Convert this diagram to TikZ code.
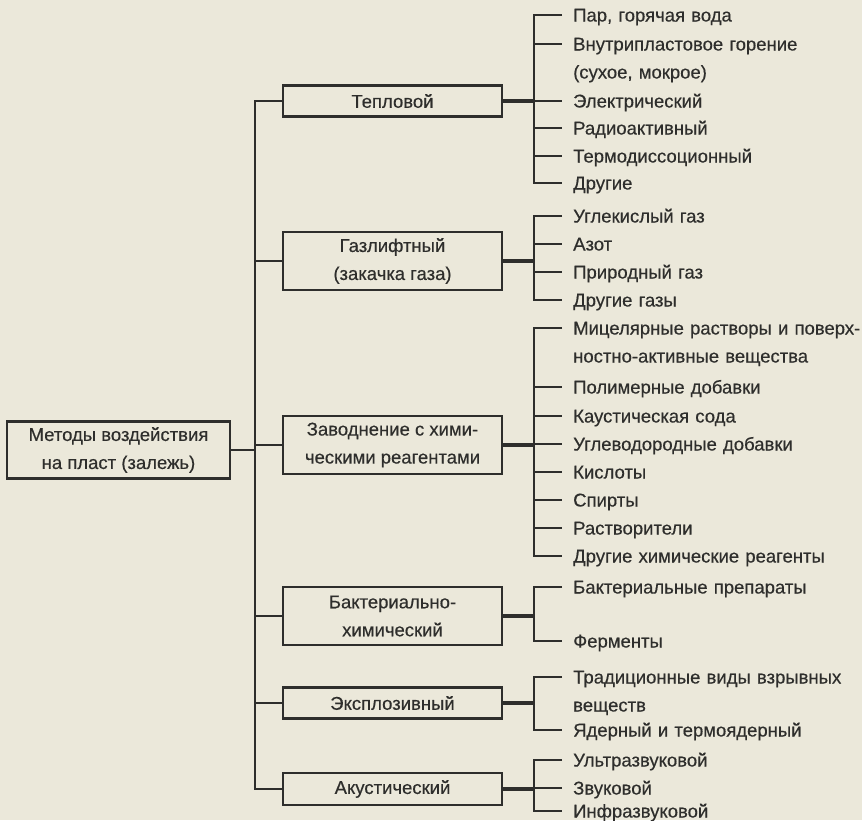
\documentclass[tikz,border=0pt]{standalone}
\usepackage{fontspec}
\setmainfont{Liberation Sans}[FakeBold=0.4]
\definecolor{paper}{RGB}{235,232,218}
\definecolor{ink}{RGB}{46,46,44}
\tikzset{
    method/.style={draw=ink, line width=2.8pt, text=ink, minimum width=219pt, align=center, inner sep=0pt},
    leaf/.style={anchor=west, text=ink, text width=310pt, align=left, inner xsep=11pt, inner ysep=0pt, text height=13pt, text depth=0pt},
    link/.style={draw=ink, line width=2.8pt},
    stub/.style={draw=ink, line width=4.6pt}
}

\begin{document}
\begin{tikzpicture}[x=1pt, y=-1pt, font=\fontsize{18.5}{28}\selectfont]
    % Paper
    \useasboundingbox (0,0) rectangle (862,820);
    \fill [paper] (0,0) rectangle (862,820);

    % Root of the tree
    \node [method, minimum width=223pt, minimum height=57pt] (root) at (118.5,450) {Методы воздействия\\на пласт (залежь)};

    % Methods
    \node [method, minimum height=31pt] (teplo) at (392.5,101) {Тепловой};
    \node [method, minimum height=58pt] (gaz) at (392.5,261) {Газлифтный\\(закачка газа)};
    \node [method, minimum height=58pt] (zavod) at (392.5,445) {Заводнение с хими-\\ческими реагентами};
    \node [method, minimum height=58pt] (bakt) at (392.5,616) {Бактериально-\\химический};
    \node [method, minimum height=31pt] (expl) at (392.5,703) {Эксплозивный};
    \node [method, minimum height=32pt] (akust) at (392.5,789) {Акустический};

    % Trunk
    \coordinate (trunk) at (255,0);
    \coordinate (bus) at (534,0);
    \draw [link] (teplo.west) -| (akust.west -| trunk) -- (akust.west);
    \draw [link] (gaz.west -| trunk) -- (gaz.west)
                 (zavod.west -| trunk) -- (zavod.west)
                 (bakt.west -| trunk) -- (bakt.west)
                 (expl.west -| trunk) -- (expl.west);
    \draw [link] (root.east) -- (root.east -| trunk);

    % Thermal
    \node [leaf] (pary) at (562,15) {Пар, горячая вода};
    \node [leaf] (vnutri) at (562,44) {Внутрипластовое горение\\(сухое, мокрое)};
    \node [leaf] (elektr) at (562,101) {Электрический};
    \node [leaf] (radio) at (562,128) {Радиоактивный};
    \node [leaf] (termo) at (562,156) {Термодиссоционный};
    \node [leaf] (drugie) at (562,183) {Другие};
    \draw [stub] (teplo.east) -- (teplo.east -| bus);
    \draw [link] (pary.west) -- (pary.west -| bus) -- (drugie.west -| bus) -- (drugie.west);
    \draw [link] (vnutri.west -| bus) -- (vnutri.west)
                 (elektr.west -| bus) -- (elektr.west)
                 (radio.west -| bus) -- (radio.west)
                 (termo.west -| bus) -- (termo.west);

    % Gas lift
    \node [leaf] (co2) at (562,216) {Углекислый газ};
    \node [leaf] (azot) at (562,244) {Азот};
    \node [leaf] (prirod) at (562,272) {Природный газ};
    \node [leaf] (drgaz) at (562,300) {Другие газы};
    \draw [stub] (gaz.east) -- (gaz.east -| bus);
    \draw [link] (co2.west) -- (co2.west -| bus) -- (drgaz.west -| bus) -- (drgaz.west);
    \draw [link] (azot.west -| bus) -- (azot.west)
                 (prirod.west -| bus) -- (prirod.west);

    % Chemical flooding
    \node [leaf] (micel) at (562,328) {Мицелярные растворы и поверх-\\ностно-активные вещества};
    \node [leaf] (polim) at (562,387) {Полимерные добавки};
    \node [leaf] (kaust) at (562,416) {Каустическая сода};
    \node [leaf] (uglev) at (562,444) {Углеводородные добавки};
    \node [leaf] (kisl) at (562,472) {Кислоты};
    \node [leaf] (spirt) at (562,500) {Спирты};
    \node [leaf] (rastv) at (562,528) {Растворители};
    \node [leaf] (drhim) at (562,556) {Другие химические реагенты};
    \draw [stub] (zavod.east) -- (zavod.east -| bus);
    \draw [link] (micel.west) -- (micel.west -| bus) -- (drhim.west -| bus) -- (drhim.west);
    \draw [link] (polim.west -| bus) -- (polim.west)
                 (kaust.west -| bus) -- (kaust.west)
                 (uglev.west -| bus) -- (uglev.west)
                 (kisl.west -| bus) -- (kisl.west)
                 (spirt.west -| bus) -- (spirt.west)
                 (rastv.west -| bus) -- (rastv.west);

    % Bacterial
    \node [leaf] (prep) at (562,587) {Бактериальные препараты};
    \node [leaf] (ferm) at (562,641) {Ферменты};
    \draw [stub] (bakt.east) -- (bakt.east -| bus);
    \draw [link] (prep.west) -- (prep.west -| bus) -- (ferm.west -| bus) -- (ferm.west);

    % Explosive
    \node [leaf] (tradic) at (562,677) {Традиционные виды взрывных\\веществ};
    \node [leaf] (yader) at (562,730) {Ядерный и термоядерный};
    \draw [stub] (expl.east) -- (expl.east -| bus);
    \draw [link] (tradic.west) -- (tradic.west -| bus) -- (yader.west -| bus) -- (yader.west);

    % Acoustic
    \node [leaf] (ultra) at (562,760) {Ультразвуковой};
    \node [leaf] (zvuk) at (562,788) {Звуковой};
    \node [leaf] (infra) at (562,811) {Инфразвуковой};
    \draw [stub] (akust.east) -- (akust.east -| bus);
    \draw [link] (ultra.west) -- (ultra.west -| bus) -- (infra.west -| bus) -- (infra.west);
    \draw [link] (zvuk.west -| bus) -- (zvuk.west);
\end{tikzpicture}
\end{document}
